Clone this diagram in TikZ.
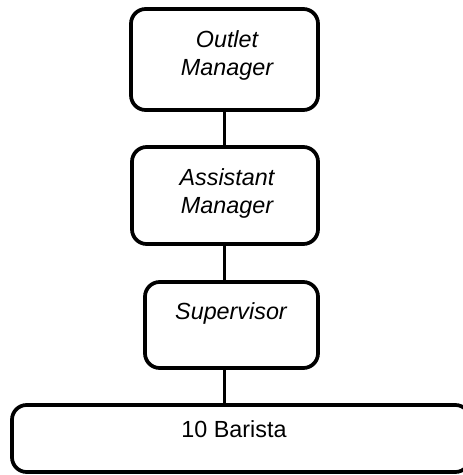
\documentclass[tikz,border=0pt]{standalone}
\usepackage{fontspec}
\setmainfont{Liberation Sans}
\begin{document}
\begin{tikzpicture}[x=0.75pt,y=-0.75pt,
    box/.style={draw,rounded corners=11pt,line width=2.8pt,inner sep=0pt},
    lbl/.style={inner sep=0pt,anchor=north,align=center,font=\fontsize{17.5}{21}\selectfont\itshape},
    link/.style={line width=2.8pt}]
    \useasboundingbox (0,0) rectangle (462,475);

    \node[box,minimum width=140.25pt,minimum height=75.75pt] (om) at (224.5,59.5) {};
    \node[box,minimum width=139.5pt,minimum height=72.75pt] (am) at (225,195.5) {};
    \node[box,minimum width=129.75pt,minimum height=64.5pt] (sv) at (231.5,325) {};
    \node[box,minimum width=343.5pt,minimum height=50.25pt] (ba) at (241,438.5) {};

    \node[lbl] (omtext) at (227,30) {Outlet\\Manager};
    \node[lbl] (amtext) at (227,168) {Assistant\\Manager};
    \node[lbl] (svtext) at (231,302) {Supervisor};
    \node[lbl,font=\fontsize{17.5}{21}\selectfont\upshape] (batext) at (234,420) {10 Barista};

    \draw[link] (om.south) -- (om.south |- am.north);
    \draw[link] (om.south |- am.south) -- (om.south |- sv.north);
    \draw[link] (om.south |- sv.south) -- (om.south |- ba.north);
\end{tikzpicture}
\end{document}
